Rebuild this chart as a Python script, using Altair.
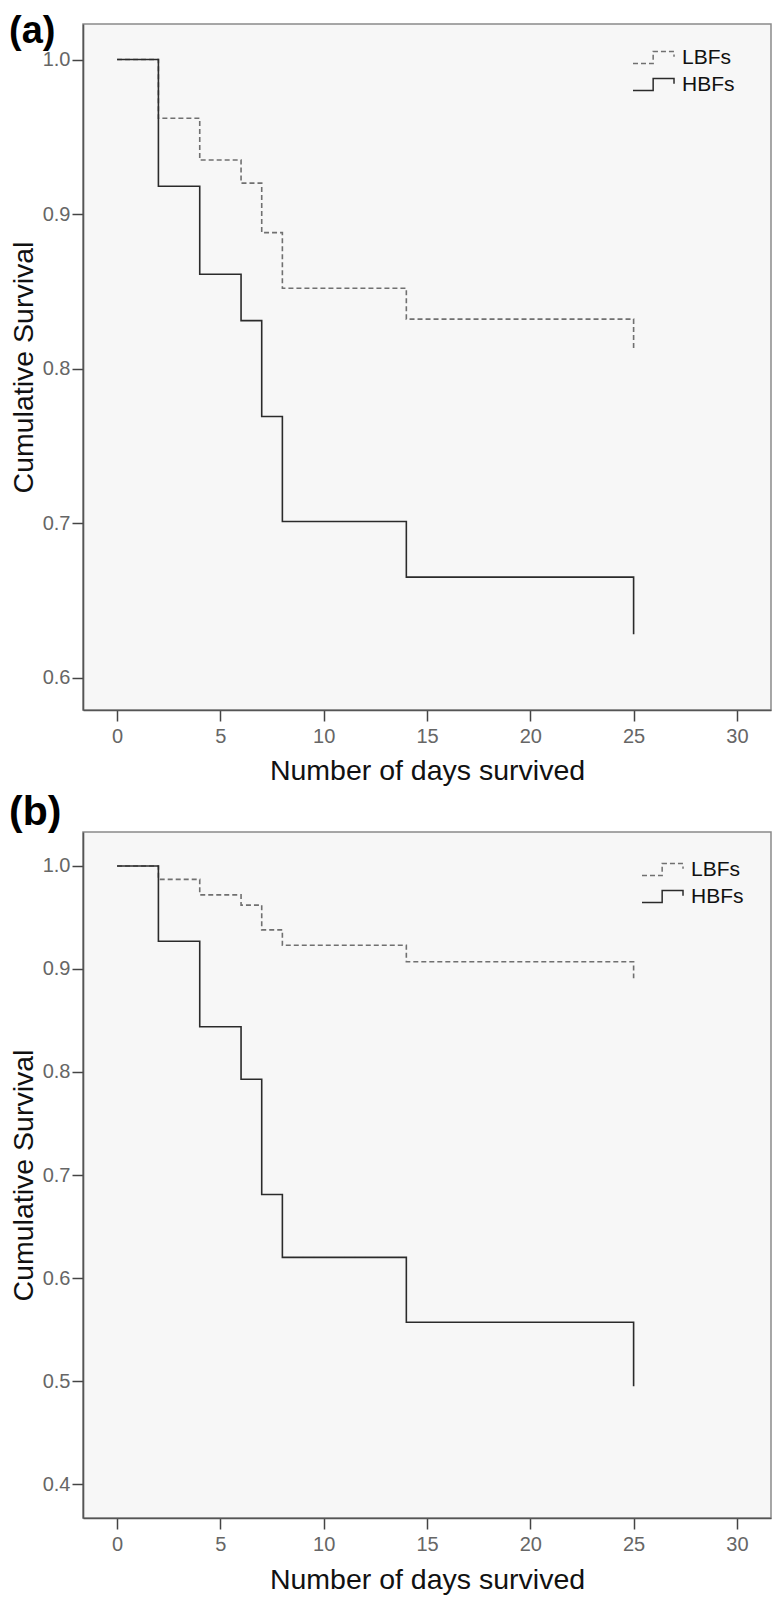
import altair as alt
import pandas as pd

# ---- data ----
days = [0, 2, 4, 6, 7, 8, 14, 25]
groups = ["LBFs", "HBFs"]

a_lbf = [1.000, 0.962, 0.935, 0.920, 0.888, 0.852, 0.832, 0.812]
a_hbf = [1.000, 0.918, 0.861, 0.831, 0.769, 0.701, 0.665, 0.628]
b_lbf = [1.000, 0.987, 0.972, 0.962, 0.938, 0.923, 0.907, 0.891]
b_hbf = [1.000, 0.927, 0.844, 0.793, 0.681, 0.620, 0.557, 0.495]

x_ticks = [0, 5, 10, 15, 20, 25, 30]
a_y_ticks = [0.6, 0.7, 0.8, 0.9, 1.0]
b_y_ticks = [0.4, 0.5, 0.6, 0.7, 0.8, 0.9, 1.0]

x_title = "Number of days survived"
y_title = "Cumulative Survival"

FONT = "Liberation Sans"
STEP_SYMBOL = "M-3,0.88L-0.05,0.88L-0.05,-0.88L3,-0.88L3,-0.1"


def make_df(lbf, hbf):
    return pd.DataFrame({
        "day": days + days,
        "survival": lbf + hbf,
        "group": [groups[0]] * len(days) + [groups[1]] * len(days),
    })


def panel(df, label, label_size, label_offset, y_domain, y_ticks, x_title_y, legend_x, legend_y):
    legend = alt.Legend(title=None, orient="none", legendX=legend_x, legendY=legend_y,
                        symbolType=STEP_SYMBOL, symbolSize=187, symbolStrokeWidth=1.5,
                        symbolFillColor="transparent")
    return alt.Chart(df).mark_line(interpolate="step-after", strokeWidth=1.6).encode(
        x=alt.X("day:Q", scale=alt.Scale(domain=[-1.65, 31.65], nice=False, zero=False),
                axis=alt.Axis(values=x_ticks, title=x_title, titleY=x_title_y,
                              titleBaseline="alphabetic", labelPadding=5)),
        y=alt.Y("survival:Q", scale=alt.Scale(domain=y_domain, nice=False, zero=False),
                axis=alt.Axis(values=y_ticks, format=".1f", title=y_title, titleX=-74,
                              titleY=343, titleBaseline="top", labelPadding=2)),
        color=alt.Color("group:N", scale=alt.Scale(domain=groups, range=["#707070", "#2b2b2b"]),
                        legend=legend),
        strokeDash=alt.StrokeDash("group:N", scale=alt.Scale(domain=groups, range=[[5, 3], [1, 0]]),
                                  legend=legend),
    ).properties(
        width=688, height=686,
        title=alt.TitleParams(label, anchor="start", frame="bounds", fontSize=label_size,
                              fontWeight="bold", font=FONT, color="#000", offset=label_offset),
    )


pa = panel(make_df(a_lbf, a_hbf), "(a)", 38, -27, [0.579, 1.023], a_y_ticks, 69, 560, 23)
pb = panel(make_df(b_lbf, b_hbf), "(b)", 41, -1.5, [0.367, 1.033], b_y_ticks, 70, 569, 27)

chart = alt.vconcat(pa, pb, spacing=4).resolve_scale(
    color="independent", strokeDash="independent"
).resolve_legend(
    color="independent", strokeDash="independent"
).properties(
    padding={"top": 4, "left": 0, "right": 0, "bottom": 0}
).configure_view(
    fill="#f7f7f7", stroke="#8a8a8a", strokeWidth=1.5
).configure_axis(
    domainColor="#555", domainWidth=1.6, tickColor="#444", tickWidth=1.5, tickSize=11,
    labelFont=FONT, labelFontSize=20, labelColor="#666",
    titleFont=FONT, titleFontSize=28.5, titleFontWeight="normal", titleColor="#111",
    grid=False, labelOverlap=False,
).configure_legend(
    labelFont=FONT, labelFontSize=21, labelColor="#111", labelOffset=18, rowPadding=5, padding=0
)

chart.save("out.html", embed_options={"renderer": "svg", "actions": False})
